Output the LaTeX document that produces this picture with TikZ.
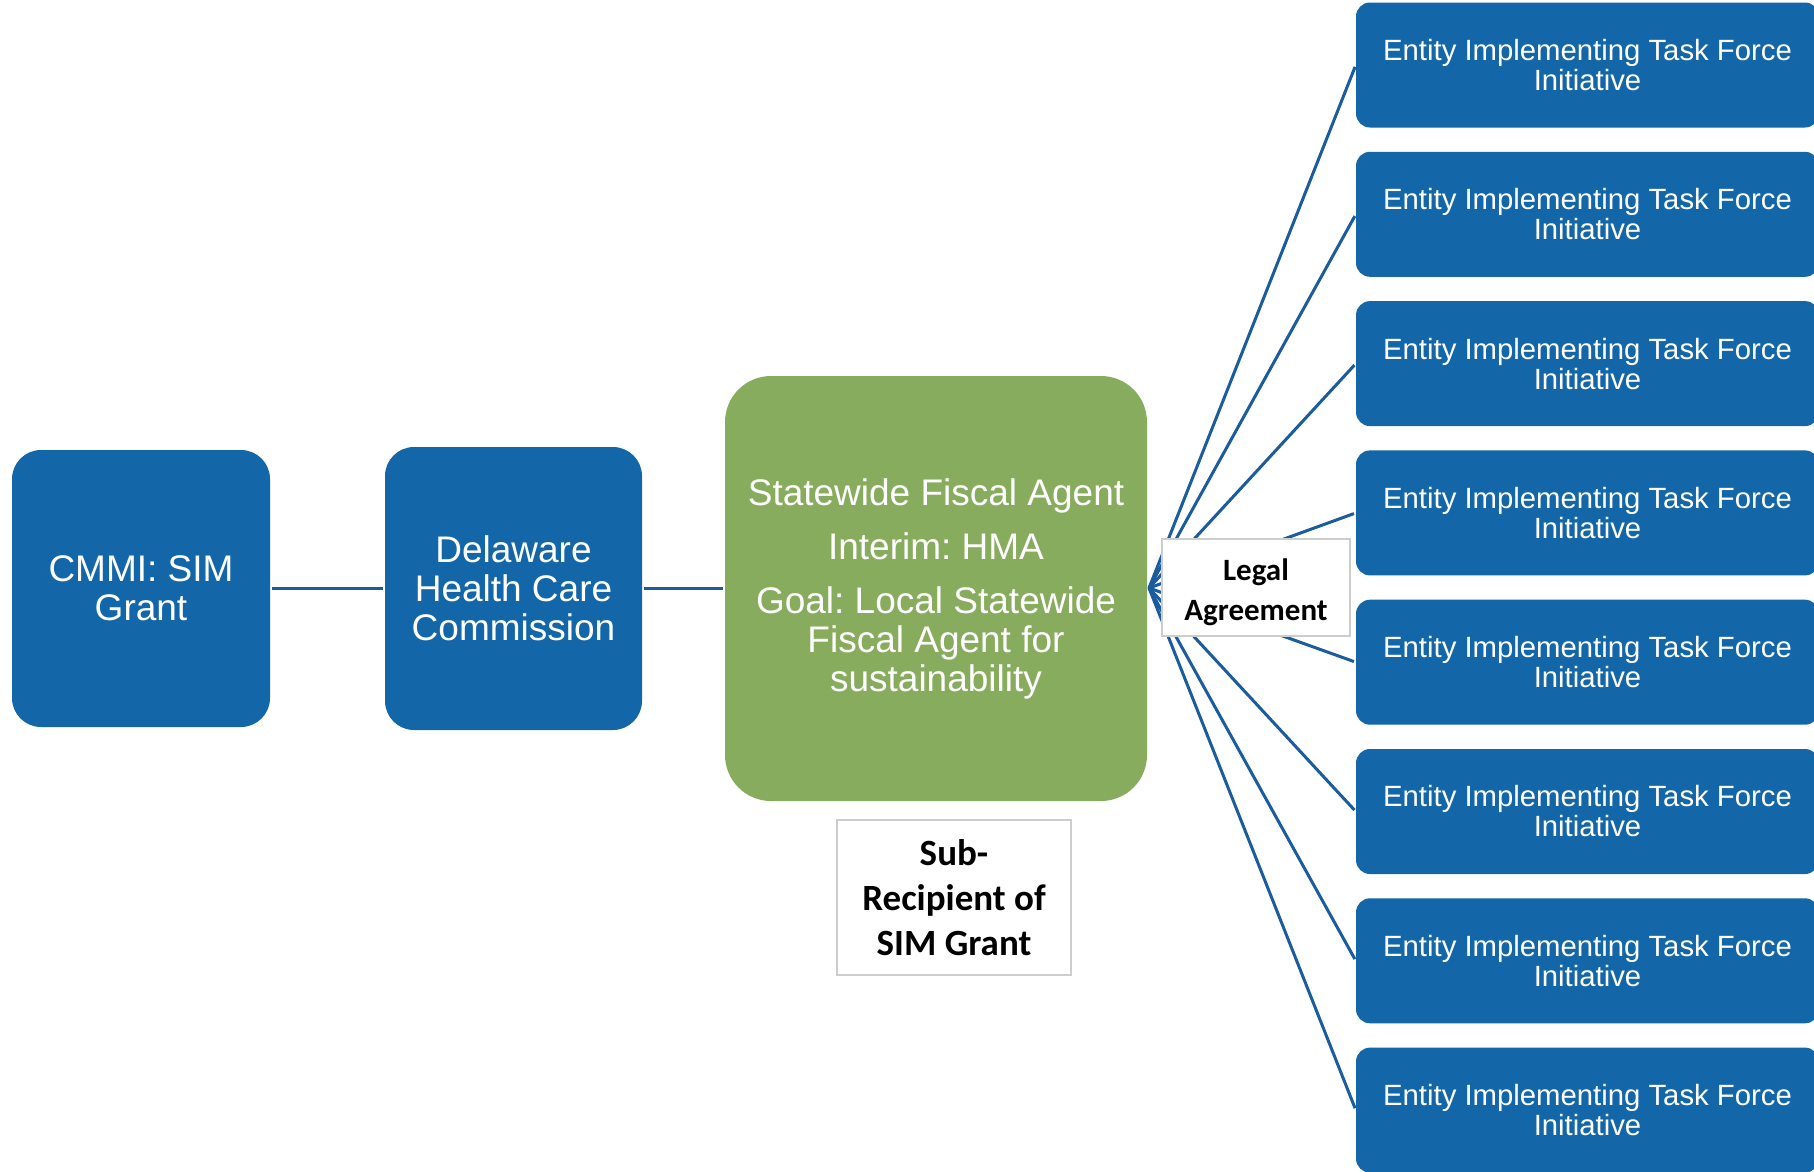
\documentclass[tikz,border=0pt]{standalone}
\usepackage{fontspec}
\setmainfont{Liberation Sans}
\newfontfamily\calibri{Carlito}
\frenchspacing
\definecolor{boxblue}{RGB}{19,102,168}
\definecolor{agentgreen}{RGB}{136,172,94}
\definecolor{linkblue}{RGB}{26,92,158}
\definecolor{framegray}{RGB}{205,205,205}
\begin{document}
\begin{tikzpicture}[x=1pt,y=-1pt,
  bigbox/.style={fill=boxblue, draw=none, rounded corners=29pt, text=white, align=center,
    inner sep=0pt, font=\frenchspacing\fontsize{37}{39}\selectfont},
  agentbox/.style={bigbox, fill=agentgreen, rounded corners=46pt},
  entitybox/.style={fill=boxblue, draw=none, rounded corners=14pt, text=white, align=center,
    inner sep=0pt, minimum width=463pt, minimum height=125pt, font=\fontsize{29.3}{30}\selectfont},
  notebox/.style={fill=white, draw=framegray, line width=2pt, align=center, inner sep=0pt},
  notetext/.style={align=center, inner sep=0pt},
  link/.style={draw=linkblue, line width=3pt}
]
\useasboundingbox (0,0) rectangle (1814,1171);

\node[bigbox, minimum width=258pt, minimum height=277pt] (cmmi) at (141,588.5) {CMMI: SIM\\Grant};
\node[bigbox, minimum width=257pt, minimum height=283pt] (dhcc) at (513.5,588.5) {Delaware\\Health Care\\Commission};
\node[agentbox, minimum width=422pt, minimum height=425pt] (agent) at (936,588.5)
  {Statewide Fiscal Agent\\[15pt]Interim: HMA\\[15pt]Goal: Local Statewide\\Fiscal Agent for\\sustainability};

\foreach \i in {1,...,8} {
  \node[entitybox] (e\i) at (1587.5,{65+149.3*(\i-1)}) {Entity Implementing Task Force\\Initiative};
}

\coordinate (fan) at (1149,588);

\draw[link, shorten <=2pt, shorten >=2pt] (cmmi.east) -- (dhcc.west);
\draw[link, shorten <=2pt, shorten >=2pt] (dhcc.east) -- (agent.west);
\foreach \i in {1,...,8} {
  \draw[link, shorten >=2pt] (fan) -- (e\i.west);
}

\node[notebox, minimum width=188pt, minimum height=97pt] (legal) at (1256,587.5) {};
\node[notetext, font=\calibri\bfseries\fontsize{31}{40}\selectfont] (legaltext)
  at ([yshift=-5pt]legal.center) {Legal\\Agreement};
\node[notebox, minimum width=234pt, minimum height=155pt,
  font=\calibri\bfseries\fontsize{37}{45}\selectfont] (sub) at (954,897.5) {Sub-\\Recipient of\\SIM Grant};
\end{tikzpicture}
\end{document}
